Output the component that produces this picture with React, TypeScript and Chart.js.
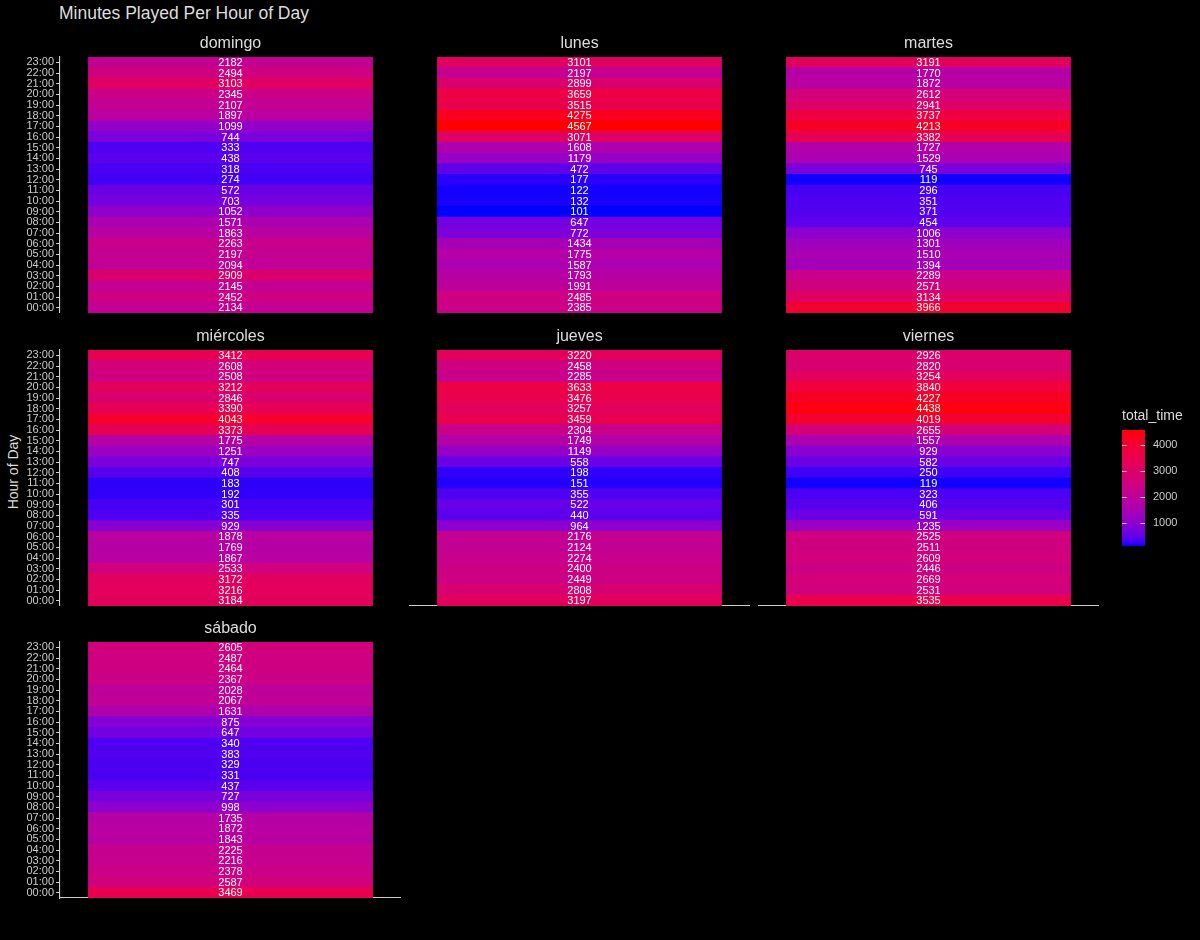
import React, { useEffect, useRef } from "react";
import { Chart, registerables } from "chart.js";

Chart.register(...registerables);

const FONT = "'Liberation Sans', Arial, Helvetica, sans-serif";

// Hour tick labels, top to bottom
const hourLabels = [
  "23:00", "22:00", "21:00", "20:00", "19:00", "18:00", "17:00", "16:00",
  "15:00", "14:00", "13:00", "12:00", "11:00", "10:00", "09:00", "08:00",
  "07:00", "06:00", "05:00", "04:00", "03:00", "02:00", "01:00", "00:00",
];

// Minutes played per hour (same order as hourLabels: 23:00 -> 00:00)
const domingo = [2182, 2494, 3103, 2345, 2107, 1897, 1099, 744, 333, 438, 318, 274, 572, 703, 1052, 1571, 1863, 2263, 2197, 2094, 2909, 2145, 2452, 2134];
const lunes = [3101, 2197, 2899, 3659, 3515, 4275, 4567, 3071, 1608, 1179, 472, 177, 122, 132, 101, 647, 772, 1434, 1775, 1587, 1793, 1991, 2485, 2385];
const martes = [3191, 1770, 1872, 2612, 2941, 3737, 4213, 3382, 1727, 1529, 745, 119, 296, 351, 371, 454, 1006, 1301, 1510, 1394, 2289, 2571, 3134, 3966];
const miercoles = [3412, 2608, 2508, 3212, 2846, 3390, 4043, 3373, 1775, 1251, 747, 408, 183, 192, 301, 335, 929, 1878, 1769, 1867, 2533, 3172, 3216, 3184];
const jueves = [3220, 2458, 2285, 3633, 3476, 3257, 3459, 2304, 1749, 1149, 558, 198, 151, 355, 522, 440, 964, 2176, 2124, 2274, 2400, 2449, 2808, 3197];
const viernes = [2926, 2820, 3254, 3840, 4227, 4438, 4019, 2655, 1557, 929, 582, 250, 119, 323, 406, 591, 1235, 2525, 2511, 2609, 2446, 2669, 2531, 3535];
const sabado = [2605, 2487, 2464, 2367, 2028, 2067, 1631, 875, 647, 340, 383, 329, 331, 437, 727, 998, 1735, 1872, 1843, 2225, 2216, 2378, 2587, 3469];

const dayNames = ["domingo", "lunes", "martes", "miércoles", "jueves", "viernes", "sábado"];
const dayValues = [domingo, lunes, martes, miercoles, jueves, viernes, sabado];

const legendTicks = [1000, 2000, 3000, 4000];
const titleText = "Minutes Played Per Hour of Day";
const yAxisTitle = "Hour of Day";
const legendTitle = "total_time";

const allValues = dayValues.flat();
const minVal = Math.min(...allValues);
const maxVal = Math.max(...allValues);

// ---- Lab colour interpolation (blue -> red), like ggplot's scale_fill_gradient ----
const Xn = 0.95047, Yn = 1.0, Zn = 1.08883;
const EPS = 216 / 24389, KAP = 24389 / 27;
function toLin(c: number) { c /= 255; return c <= 0.04045 ? c / 12.92 : Math.pow((c + 0.055) / 1.055, 2.4); }
function fromLin(c: number) {
  const v = c <= 0.0031308 ? 12.92 * c : 1.055 * Math.pow(Math.max(c, 0), 1 / 2.4) - 0.055;
  return Math.round(Math.max(0, Math.min(1, v)) * 255);
}
function rgbToLab(rgb: number[]) {
  const R = toLin(rgb[0]), G = toLin(rgb[1]), B = toLin(rgb[2]);
  const X = 0.4124564 * R + 0.3575761 * G + 0.1804375 * B;
  const Y = 0.2126729 * R + 0.7151522 * G + 0.072175 * B;
  const Z = 0.0193339 * R + 0.119192 * G + 0.9503041 * B;
  const f = (t: number) => (t > EPS ? Math.cbrt(t) : (KAP * t + 16) / 116);
  const fx = f(X / Xn), fy = f(Y / Yn), fz = f(Z / Zn);
  return [116 * fy - 16, 500 * (fx - fy), 200 * (fy - fz)];
}
function labToRgb(lab: number[]) {
  const [L, a, b] = lab;
  const fy = (L + 16) / 116, fx = fy + a / 500, fz = fy - b / 200;
  const finv = (t: number) => (t * t * t > EPS ? t * t * t : (116 * t - 16) / KAP);
  const X = Xn * finv(fx);
  const Y = Yn * (L > KAP * EPS ? fy * fy * fy : L / KAP);
  const Z = Zn * finv(fz);
  const R = 3.2404542 * X - 1.5371385 * Y - 0.4985314 * Z;
  const G = -0.969266 * X + 1.8760108 * Y + 0.041556 * Z;
  const B = 0.0556434 * X - 0.2040259 * Y + 1.0572252 * Z;
  return [fromLin(R), fromLin(G), fromLin(B)];
}
const LOW_LAB = rgbToLab([0, 0, 255]);
const HIGH_LAB = rgbToLab([255, 0, 0]);
function colorAt(t: number) {
  const lab = LOW_LAB.map((v, i) => v + (HIGH_LAB[i] - v) * t);
  const [r, g, b] = labToRgb(lab);
  return `rgb(${r},${g},${b})`;
}
function valueColor(v: number) {
  return colorAt((v - minVal) / (maxVal - minVal));
}

// ---- layout constants ----
const colLefts = [60, 409, 758];
const rowTops = [57, 350, 642];
const PLOT_W = 341;
const PLOT_H = 256;
const STRIP_H = 30;
const Y_AXIS_W = 52;
const X_AXIS_H = 2;

const AXIS_COLOR = "#cccccc";

function makeTileLabels(values: number[]) {
  return {
    id: "tileLabels",
    afterDatasetsDraw(chart: any) {
      const ctx = chart.ctx;
      const meta = chart.getDatasetMeta(0);
      ctx.save();
      ctx.fillStyle = "#ffffff";
      ctx.font = `11px ${FONT}`;
      ctx.textAlign = "center";
      ctx.textBaseline = "middle";
      meta.data.forEach((el: any, i: number) => {
        const cx = (el.x + el.base) / 2;
        ctx.fillText(String(values[i]), cx, el.y + 0.5);
      });
      ctx.restore();
    },
  };
}

type PanelProps = { name: string; values: number[]; col: number; row: number; showY: boolean; showX: boolean };

function Panel({ name, values, col, row, showY, showX }: PanelProps) {
  const ref = useRef<HTMLCanvasElement>(null);
  const axisW = showY ? Y_AXIS_W : 0;
  const cw = axisW + PLOT_W;
  const ch = STRIP_H + PLOT_H + (showX ? X_AXIS_H : 0);
  const left = colLefts[col] - axisW;
  const top = rowTops[row] - STRIP_H;

  useEffect(() => {
    const chart = new Chart(ref.current as HTMLCanvasElement, {
      type: "bar",
      data: {
        labels: hourLabels,
        datasets: [
          {
            data: values.map(() => [0.5, 1.5]) as any,
            backgroundColor: values.map(valueColor),
            borderWidth: 0,
            barPercentage: 1,
            categoryPercentage: 1,
          },
        ],
      },
      options: {
        indexAxis: "y",
        responsive: false,
        animation: false,
        devicePixelRatio: 1,
        layout: { padding: 0 },
        plugins: {
          legend: { display: false },
          tooltip: { enabled: false },
          title: {
            display: true,
            text: name,
            fullSize: false,
            color: "#dddddd",
            font: { family: FONT, size: 16, weight: "normal" },
            padding: { top: 7, bottom: 3.8 },
          },
        },
        scales: {
          x: {
            type: "linear",
            min: 0.4,
            max: 1.6,
            display: showX,
            ticks: { display: false },
            grid: { display: true, drawOnChartArea: false, drawTicks: false, color: "rgba(0,0,0,0)" },
            border: { display: true, color: AXIS_COLOR, width: 1.1 },
            afterFit: (s: any) => { if (showX) s.height = X_AXIS_H; },
          },
          y: {
            type: "category",
            display: showY,
            position: "left",
            offset: true,
            ticks: { color: AXIS_COLOR, font: { family: FONT, size: 11 }, padding: 2, autoSkip: false },
            grid: { display: true, offset: false, drawOnChartArea: false, drawTicks: true, tickLength: 4, color: AXIS_COLOR, lineWidth: 1 },
            border: { display: true, color: AXIS_COLOR, width: 1.1 },
            afterFit: (s: any) => {
              if (showY) s.width = Y_AXIS_W;
              s.paddingTop = 0;
              s.paddingBottom = 0;
            },
          },
        },
      } as any,
      plugins: [makeTileLabels(values)],
    });
    return () => chart.destroy();
  }, []);

  return (
    <canvas
      ref={ref}
      width={cw}
      height={ch}
      style={{ position: "absolute", left, top, width: cw, height: ch }}
    />
  );
}

const legendTickMarks = {
  id: "legendTickMarks",
  afterDatasetsDraw(chart: any) {
    const { ctx, chartArea } = chart;
    const ys = chart.scales.y;
    ctx.save();
    ctx.strokeStyle = "rgba(255,255,255,0.75)";
    ctx.lineWidth = 1;
    legendTicks.forEach((v) => {
      const y = Math.round(ys.getPixelForValue(v)) + 0.5;
      ctx.beginPath();
      ctx.moveTo(chartArea.left, y);
      ctx.lineTo(chartArea.left + 4.6, y);
      ctx.moveTo(chartArea.right - 4.6, y);
      ctx.lineTo(chartArea.right, y);
      ctx.stroke();
    });
    ctx.restore();
  },
};

function ColorBar() {
  const ref = useRef<HTMLCanvasElement>(null);
  const BAR_W = 23;
  const AX_W = 60;
  const cw = BAR_W + AX_W;
  const ch = 141;
  useEffect(() => {
    const chart = new Chart(ref.current as HTMLCanvasElement, {
      type: "bar",
      data: {
        labels: [""],
        datasets: [
          {
            data: [[minVal, maxVal]] as any,
            backgroundColor: (c: any) => {
              const chartRef = c.chart;
              if (!chartRef.chartArea) return valueColor((minVal + maxVal) / 2);
              const ys = chartRef.scales.y;
              const y0 = ys.getPixelForValue(minVal);
              const y1 = ys.getPixelForValue(maxVal);
              const g = chartRef.ctx.createLinearGradient(0, y0, 0, y1);
              for (let i = 0; i <= 40; i++) g.addColorStop(i / 40, colorAt(i / 40));
              return g;
            },
            borderWidth: 0,
            barPercentage: 1,
            categoryPercentage: 1,
          },
        ],
      },
      options: {
        responsive: false,
        animation: false,
        devicePixelRatio: 1,
        layout: { padding: 0 },
        plugins: {
          legend: { display: false },
          tooltip: { enabled: false },
          title: {
            display: true,
            text: legendTitle,
            align: "start",
            color: "#dddddd",
            font: { family: FONT, size: 14, weight: "normal" },
            padding: { top: 3, bottom: 5.2 },
          },
        },
        scales: {
          x: { display: false },
          y: {
            type: "linear",
            position: "right",
            min: minVal,
            max: maxVal,
            afterBuildTicks: (s: any) => { s.ticks = legendTicks.map((v) => ({ value: v })); },
            ticks: { color: AXIS_COLOR, font: { family: FONT, size: 11 }, padding: 8, callback: (v: any) => String(v) },
            grid: { display: false, drawTicks: false },
            border: { display: false },
            afterFit: (s: any) => { s.width = AX_W; s.paddingTop = 0; s.paddingBottom = 0; },
          },
        },
      } as any,
      plugins: [legendTickMarks],
    });
    return () => chart.destroy();
  }, []);
  return (
    <canvas
      ref={ref}
      width={cw}
      height={ch}
      style={{ position: "absolute", left: 1122, top: 405, width: cw, height: ch }}
    />
  );
}

const panelLayout = [
  { col: 0, row: 0 },
  { col: 1, row: 0 },
  { col: 2, row: 0 },
  { col: 0, row: 1 },
  { col: 1, row: 1 },
  { col: 2, row: 1 },
  { col: 0, row: 2 },
];

export default function App() {
  useEffect(() => {
    document.body.style.margin = "0";
    document.body.style.background = "#000";
  }, []);
  return (
    <div style={{ position: "fixed", left: 0, top: 0, width: 1200, height: 940, background: "#000", overflow: "hidden" }}>
      <div
        style={{
          position: "absolute",
          left: 59,
          top: 4.5,
          font: `17.5px ${FONT}`,
          lineHeight: 1,
          color: "#dddddd",
          whiteSpace: "nowrap",
        }}
      >
        {titleText}
      </div>
      <div
        style={{
          position: "absolute",
          left: 12.5 - 60,
          top: 472 - 8,
          width: 120,
          height: 16,
          lineHeight: "16px",
          textAlign: "center",
          transform: "rotate(-90deg)",
          font: `14px ${FONT}`,
          color: "#dddddd",
          whiteSpace: "nowrap",
        }}
      >
        {yAxisTitle}
      </div>
      {dayNames.map((name, i) => {
        const { col, row } = panelLayout[i];
        const isBottomOfCol = !panelLayout.some((p) => p.col === col && p.row > row);
        return (
          <Panel
            key={name}
            name={name}
            values={dayValues[i]}
            col={col}
            row={row}
            showY={col === 0}
            showX={isBottomOfCol}
          />
        );
      })}
      <ColorBar />
    </div>
  );
}
